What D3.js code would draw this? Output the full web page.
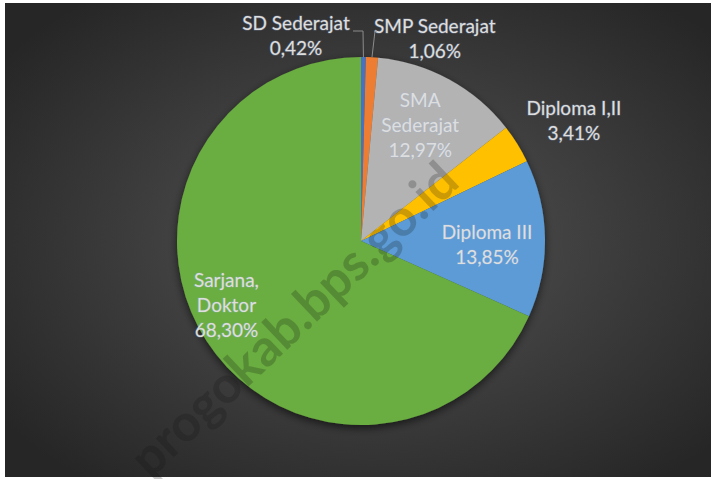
<!DOCTYPE html>
<html>
<head>
<meta charset="utf-8">
<script src="https://cdn.jsdelivr.net/npm/d3@7"></script>
<style>
  html, body { margin: 0; padding: 0; background: #ffffff; }
  svg { display: block; }
</style>
</head>
<body>
<div id="chart"></div>
<script>
// categories and shares (percent)
const categories = ["SD Sederajat", "SMP Sederajat", "SMA Sederajat", "Diploma I,II", "Diploma III", "Sarjana, Doktor"];
const shares = [0.42, 1.06, 12.97, 3.41, 13.85, 68.30];
const shareLabels = ["0,42%", "1,06%", "12,97%", "3,41%", "13,85%", "68,30%"];
const labelLines = [["SD Sederajat"], ["SMP Sederajat"], ["SMA", "Sederajat"], ["Diploma I,II"], ["Diploma III"], ["Sarjana,", "Doktor"]];
const colors = ["#4472c4", "#ed7d31", "#b3b3b3", "#ffc000", "#5b9bd5", "#6aad3f"];

const width = 713, height = 479;
const cx = 361, cy = 241, radius = 184;

const svg = d3.select("#chart").append("svg")
  .attr("width", width)
  .attr("height", height)
  .style("font-family", "Lato, 'Open Sans', sans-serif");

const defs = svg.append("defs");
const bg = defs.append("radialGradient")
  .attr("id", "bg")
  .attr("cx", "52%").attr("cy", "50%").attr("r", "65%");
bg.append("stop").attr("offset", "0%").attr("stop-color", "#555555");
bg.append("stop").attr("offset", "100%").attr("stop-color", "#262626");

const shadow = defs.append("filter")
  .attr("id", "shadow")
  .attr("x", "-20%").attr("y", "-20%").attr("width", "140%").attr("height", "140%");
shadow.append("feDropShadow")
  .attr("dx", 0).attr("dy", 3)
  .attr("stdDeviation", 4)
  .attr("flood-color", "#000")
  .attr("flood-opacity", 0.6);

// chart area (thin white margin round it)
svg.append("rect")
  .attr("x", 5).attr("y", 3)
  .attr("width", width - 7).attr("height", height - 5)
  .attr("fill", "url(#bg)");

const pie = d3.pie().sort(null).value(d => d.value);
const data = categories.map((c, i) => ({ name: c, value: shares[i], i }));
const arcs = pie(data);

const arc = d3.arc().innerRadius(0).outerRadius(radius);

const g = svg.append("g").attr("transform", `translate(${cx},${cy})`);

g.append("g")
  .attr("filter", "url(#shadow)")
  .selectAll("path")
  .data(arcs)
  .enter()
  .append("path")
  .attr("d", arc)
  .attr("fill", d => colors[d.data.i]);

// label placement: radius factor (of pie radius) and angle nudge (rad)
const place = [
  { r: 1.17, da: -0.32 },
  { r: 1.17, da: 0.29 },
  { r: 0.71, da: -0.03 },
  { r: 1.33, da: 0.04 },
  { r: 0.685, da: 0.04 },
  { r: 0.81, da: 0.13 }
];

const lineH = 25;
const labels = g.append("g")
  .selectAll("g")
  .data(arcs)
  .enter()
  .append("g")
  .attr("transform", d => {
    const p = place[d.data.i];
    const a = (d.startAngle + d.endAngle) / 2 + p.da;
    const rr = radius * p.r;
    return `translate(${rr * Math.sin(a)},${-rr * Math.cos(a)})`;
  });

labels.each(function (d) {
  const lines = labelLines[d.data.i].concat([shareLabels[d.data.i]]);
  const n = lines.length;
  const t = d3.select(this).append("text")
    .attr("text-anchor", "middle")
    .attr("font-size", 19)
    .attr("fill", "#dedede")
    .style("paint-order", "stroke")
    .attr("stroke", "rgba(160,185,225,0.35)")
    .attr("stroke-width", 1.2);
  lines.forEach((s, k) => {
    t.append("tspan")
      .attr("x", 0)
      .attr("y", (k - (n - 1) / 2) * lineH + 7)
      .text(s);
  });
});

// leader lines for the two thin slices
const leaders = [
  { i: 0, from: [-8, -210], bend: [2, -210] },
  { i: 1, from: [16, -210], bend: [14, -210] }
];
leaders.forEach(l => {
  const d = arcs[l.i];
  const a = (d.startAngle + d.endAngle) / 2;
  const end = [radius * Math.sin(a), -radius * Math.cos(a)];
  g.append("path")
    .attr("d", d3.line()([l.from, l.bend, end]))
    .attr("fill", "none")
    .attr("stroke", "#8c8c8c")
    .attr("stroke-width", 1);
});

// watermark (runs off the bottom edge, as in the source image)
svg.append("text")
  .attr("transform", "translate(306,332) rotate(-43.5)")
  .attr("text-anchor", "middle")
  .attr("font-size", 51)
  .attr("font-weight", "bold")
  .attr("fill", "rgba(20,20,20,0.22)")
  .text("progokab.bps.go.id");
</script>
</body>
</html>
